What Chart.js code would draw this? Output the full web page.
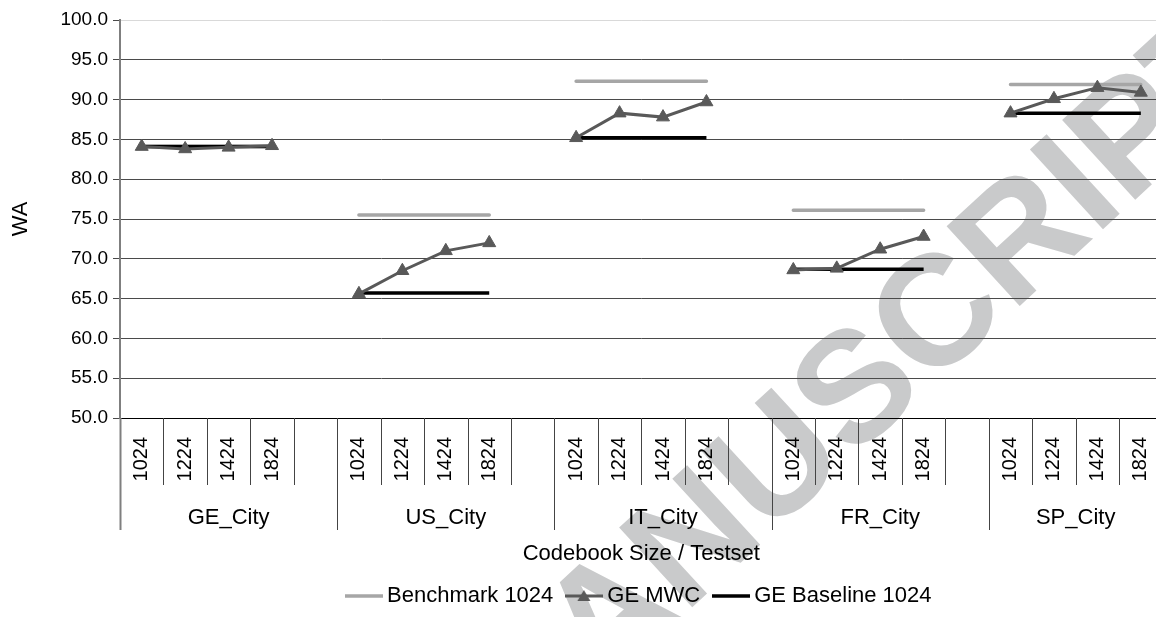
<!DOCTYPE html>
<html>
<head>
<meta charset="utf-8">
<script src="https://cdn.jsdelivr.net/npm/chart.js@4.4.1/dist/chart.umd.min.js"></script>
<style>
  html, body { margin: 0; padding: 0; background: #fff; overflow: hidden; }
  #wrap { width: 1156px; height: 617px; overflow: hidden; }
</style>
</head>
<body>
<div id="wrap"><canvas id="wa-chart" width="1184" height="617" style="width:1184px;height:617px"></canvas></div>
<script>
// values
var testsets = ['GE_City', 'US_City', 'IT_City', 'FR_City', 'SP_City'];
var codebookSizes = ['1024', '1224', '1424', '1824'];
var benchmark1024 = [84.1, 75.5, 92.3, 76.1, 91.9];
var geBaseline1024 = [84.1, 65.7, 85.2, 68.7, 88.3];
var geMwcGE = [84.1, 83.8, 84.0, 84.2];
var geMwcUS = [65.6, 68.5, 71.0, 72.0];
var geMwcIT = [85.2, 88.3, 87.8, 89.7];
var geMwcFR = [68.6, 68.8, 71.2, 72.8];
var geMwcSP = [88.3, 90.1, 91.5, 90.9];
var geMwc = [geMwcGE, geMwcUS, geMwcIT, geMwcFR, geMwcSP];
var yMin = 50, yMax = 100, yStep = 5;

var FONT = "'Liberation Sans', Arial, Helvetica, sans-serif";
Chart.defaults.font.family = FONT;
Chart.defaults.color = '#000';

// one slot per codebook size, plus an empty slot between testsets
var labels = [], benchSeries = [], baseSeries = [], mwcSeries = [], groupStarts = [];
testsets.forEach(function (t, i) {
  groupStarts.push(labels.length);
  codebookSizes.forEach(function (c, j) {
    labels.push(c);
    benchSeries.push(benchmark1024[i]);
    baseSeries.push(geBaseline1024[i]);
    mwcSeries.push(geMwc[i][j]);
  });
  if (i < testsets.length - 1) {
    labels.push('');
    benchSeries.push(null);
    baseSeries.push(null);
    mwcSeries.push(null);
  }
});

// little legend swatches: line, line with triangle
function swatch(color, width, marker) {
  var c = document.createElement('canvas');
  c.width = 38; c.height = 16;
  var g = c.getContext('2d');
  g.strokeStyle = color; g.lineWidth = width;
  g.beginPath(); g.moveTo(0, 8); g.lineTo(38, 8); g.stroke();
  if (marker) {
    g.fillStyle = color;
    g.beginPath(); g.moveTo(19, 2); g.lineTo(25.5, 13); g.lineTo(12.5, 13); g.closePath(); g.fill();
  }
  return c;
}
var swatches = [swatch('#a6a6a6', 3.5, false), swatch('#595959', 3, true), swatch('#000', 3.5, false)];

var watermark = {
  id: 'watermark',
  beforeDraw: function (chart) {
    var ctx = chart.ctx;
    ctx.save();
    ctx.translate(852, 384);
    ctx.rotate(-42.6 * Math.PI / 180);
    ctx.font = 'bold 157px ' + FONT;
    ctx.fillStyle = '#c9cacb';
    ctx.textBaseline = 'alphabetic';
    ctx.textAlign = 'right';
    var w = ctx.measureText('MANUSCRIPT').width;
    ctx.fillText('ACCEPTED MANUSCRIPT', w / 2, 56);
    ctx.restore();
  }
};

// category dividers and testset names under the codebook sizes
var groupAxis = {
  id: 'groupAxis',
  afterLayout: function (chart) {
    var lg = chart.legend;
    lg.left = chart.chartArea.left;
    lg.right = chart.chartArea.right;
    lg.width = lg.right - lg.left;
  },
  afterDraw: function (chart) {
    var ctx = chart.ctx, xs = chart.scales.x, top = xs.top;
    ctx.save();
    for (var i = 0; i < labels.length; i++) {
      var x = Math.round(xs.getPixelForValue(i - 0.5)) + 0.5;
      var isGroup = groupStarts.indexOf(i) >= 0;
      ctx.strokeStyle = i === 0 ? '#7f7f7f' : '#444';
      ctx.lineWidth = i === 0 ? 2 : 1;
      ctx.beginPath();
      ctx.moveTo(x, top);
      ctx.lineTo(x, top + (isGroup ? 112 : 67));
      ctx.stroke();
    }
    ctx.fillStyle = '#000';
    ctx.font = '22px ' + FONT;
    ctx.textAlign = 'center';
    ctx.textBaseline = 'middle';
    testsets.forEach(function (t, i) {
      var first = groupStarts[i];
      var last = i < testsets.length - 1 ? groupStarts[i + 1] - 1 : labels.length - 1;
      var x0 = xs.getPixelForValue(first - 0.5), x1 = xs.getPixelForValue(last + 0.5);
      ctx.fillText(t, (x0 + x1) / 2, top + 100);
    });
    ctx.restore();
  }
};

new Chart(document.getElementById('wa-chart'), {
  type: 'line',
  data: {
    labels: labels,
    datasets: [
      {
        label: 'Benchmark 1024',
        data: benchSeries,
        borderColor: '#a6a6a6',
        borderWidth: 3.5,
        borderCapStyle: 'round',
        pointRadius: 0,
        fill: false,
        order: 2
      },
      {
        label: 'GE MWC',
        data: mwcSeries,
        borderColor: '#595959',
        backgroundColor: '#595959',
        borderWidth: 3,
        pointStyle: 'triangle',
        pointRadius: 7.5,
        pointBorderWidth: 1,
        fill: false,
        order: 0
      },
      {
        label: 'GE Baseline 1024',
        data: baseSeries,
        borderColor: '#000',
        borderWidth: 3.5,
        pointRadius: 0,
        fill: false,
        order: 1
      }
    ]
  },
  options: {
    responsive: false,
    animation: false,
    events: [],
    layout: { padding: { top: 20, right: 0, bottom: 0, left: 0 } },
    scales: {
      x: {
        offset: true,
        grid: { display: false, drawTicks: false, offset: true },
        border: { display: true, color: '#000', width: 1 },
        ticks: { autoSkip: false, minRotation: 90, maxRotation: 90, padding: 19, font: { size: 20 }, color: '#000' },
        title: { display: true, text: 'Codebook Size / Testset', font: { size: 22 }, padding: { top: 0, bottom: 0 } },
        afterFit: function (scale) { scale.height = 149; }
      },
      y: {
        min: yMin,
        max: yMax,
        ticks: { stepSize: yStep, padding: 5, font: { size: 19 }, color: '#000',
          callback: function (v) { return v.toFixed(1); } },
        grid: {
          color: function (c) { return c.tick && c.tick.value === yMax ? '#d9d9d9' : '#4a4a4a'; },
          tickColor: '#4a4a4a',
          tickLength: 7
        },
        border: { color: '#7f7f7f', width: 2 },
        title: { display: true, text: 'WA', font: { size: 22 }, padding: { top: 8, bottom: 0 } },
        afterFit: function (scale) { scale.width = 120; }
      }
    },
    plugins: {
      tooltip: { enabled: false },
      legend: {
        position: 'bottom',
        labels: {
          usePointStyle: true,
          pointStyleWidth: 25,
          padding: 18,
          font: { size: 22 },
          color: '#000',
          sort: function (a, b) { return a.datasetIndex - b.datasetIndex; },
          generateLabels: function (chart) {
            var items = Chart.defaults.plugins.legend.labels.generateLabels(chart);
            items.forEach(function (it) { it.pointStyle = swatches[it.datasetIndex]; });
            return items;
          }
        }
      }
    }
  },
  plugins: [watermark, groupAxis]
});
</script>
</body>
</html>
